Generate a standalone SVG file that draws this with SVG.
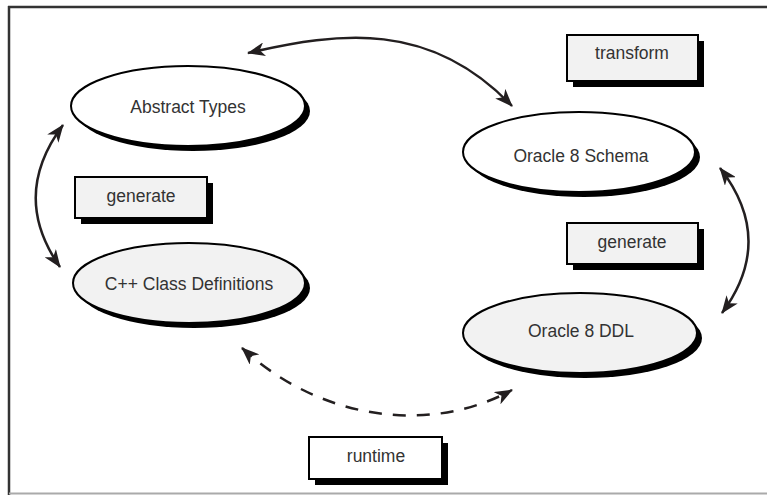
<svg xmlns="http://www.w3.org/2000/svg" width="767" height="495" viewBox="0 0 767 495">
<defs>
<style>
.lbl{font-family:"Liberation Sans",Arial,sans-serif;font-size:17.5px;fill:#333;text-anchor:middle}
.sh{fill:#000}
.ew{fill:#fff;stroke:#000;stroke-width:2}
.eg{fill:#f2f2f2;stroke:#000;stroke-width:2}
.box{fill:#f2f2f2;stroke:#000;stroke-width:2}
.con{fill:none;stroke:#231f20;stroke-width:2.5}
.dash{stroke-dasharray:13 11}
</style>
<marker id="ah" viewBox="0 0 18 14" refX="17" refY="7" markerWidth="18" markerHeight="14" markerUnits="userSpaceOnUse" orient="auto-start-reverse">
<path d="M0,0 L18,7 L0,14 L5,7 z" fill="#231f20"/>
</marker>
</defs>
<rect x="0" y="0" width="767" height="495" fill="#fff"/>
<g id="frame">
<line x1="8" y1="7" x2="767" y2="7" stroke="#333" stroke-width="2.5"/>
<line x1="9" y1="6" x2="9" y2="495" stroke="#333" stroke-width="2.5"/>
<line x1="9" y1="493.5" x2="767" y2="493.5" stroke="#aaa" stroke-width="2"/>
</g>
<g id="connectors">
<path class="con" d="M248,53 C340,32 430,20 512,106" marker-start="url(#ah)" marker-end="url(#ah)"/>
<path class="con" d="M63,125 Q10,196 60,267" marker-start="url(#ah)" marker-end="url(#ah)"/>
<path class="con" d="M720,168 Q776,240 722,313" marker-start="url(#ah)" marker-end="url(#ah)"/>
<path class="con dash" d="M242,348 C320,420 430,435 512,390" marker-start="url(#ah)" marker-end="url(#ah)"/>
</g>
<g id="abstract-types">
<ellipse class="sh" cx="193" cy="111" rx="117" ry="40"/>
<ellipse class="ew" cx="188" cy="106" rx="117" ry="40"/>
<text class="lbl" x="188" y="113">Abstract Types</text>
</g>
<g id="cpp-class-definitions">
<ellipse class="sh" cx="194" cy="288" rx="116" ry="40"/>
<ellipse class="eg" cx="189" cy="283" rx="116" ry="40"/>
<text class="lbl" x="189" y="290">C++ Class Definitions</text>
</g>
<g id="oracle-schema">
<ellipse class="sh" cx="584" cy="157" rx="116" ry="40"/>
<ellipse class="ew" cx="579" cy="152" rx="116" ry="40"/>
<text class="lbl" x="581" y="162">Oracle 8 Schema</text>
</g>
<g id="oracle-ddl">
<ellipse class="sh" cx="585" cy="338" rx="117" ry="40"/>
<ellipse class="eg" cx="580" cy="333" rx="117" ry="40"/>
<text class="lbl" x="581" y="337">Oracle 8 DDL</text>
</g>
<g id="generate-left">
<rect class="sh" x="81" y="183" width="132" height="41"/>
<rect class="box" x="75" y="177" width="132" height="41"/>
<text class="lbl" x="141" y="202">generate</text>
</g>
<g id="transform">
<rect class="sh" x="573" y="41" width="131" height="46"/>
<rect class="box" x="567" y="35" width="131" height="46"/>
<text class="lbl" x="632" y="59">transform</text>
</g>
<g id="generate-right">
<rect class="sh" x="573" y="229" width="131" height="41"/>
<rect class="box" x="567" y="223" width="131" height="41"/>
<text class="lbl" x="632" y="248">generate</text>
</g>
<g id="runtime">
<rect class="sh" x="315" y="443" width="133" height="42"/>
<rect class="box" x="309" y="437" width="133" height="42" style="fill:#fff"/>
<text class="lbl" x="376" y="462">runtime</text>
</g>
</svg>
